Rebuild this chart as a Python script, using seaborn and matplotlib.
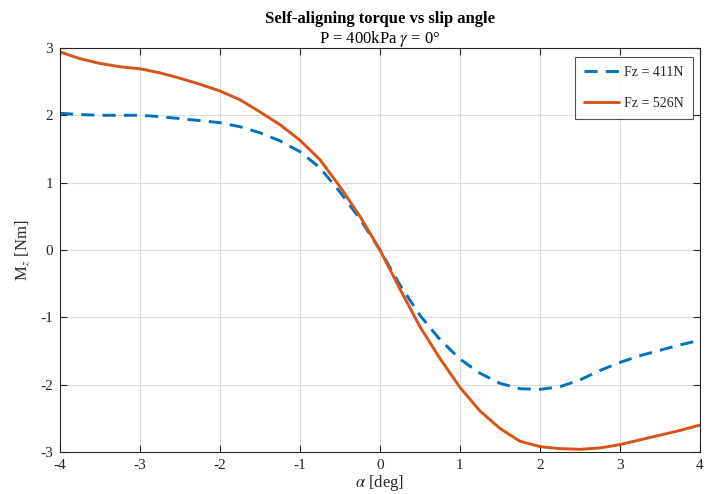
import numpy as np
import pandas as pd
import matplotlib
matplotlib.use('Agg')
import matplotlib.pyplot as plt
import seaborn as sns

# slip angle [deg]
alpha = [-4.0, -3.75, -3.5, -3.25, -3.0, -2.75, -2.5, -2.25, -2.0, -1.75, -1.5,
         -1.25, -1.0, -0.75, -0.5, -0.25, 0.0, 0.25, 0.5, 0.75, 1.0, 1.25, 1.5,
         1.75, 2.0, 2.25, 2.5, 2.75, 3.0, 3.25, 3.5, 3.75, 4.0]

# Mz [Nm]
mz_411 = [2.03, 2.01, 2.00, 2.00, 2.00, 1.98, 1.95, 1.92, 1.89, 1.83, 1.74,
          1.62, 1.46, 1.22, 0.86, 0.46, 0.0, -0.52, -0.97, -1.33, -1.62, -1.83,
          -1.98, -2.06, -2.07, -2.03, -1.93, -1.79, -1.67, -1.57, -1.49, -1.41, -1.34]
mz_526 = [2.94, 2.84, 2.77, 2.72, 2.69, 2.63, 2.55, 2.46, 2.36, 2.23, 2.05,
          1.86, 1.63, 1.34, 0.94, 0.50, 0.0, -0.58, -1.14, -1.61, -2.04, -2.39,
          -2.65, -2.84, -2.92, -2.95, -2.96, -2.94, -2.89, -2.82, -2.75, -2.68, -2.60]

labels = ['Fz = 411N', 'Fz = 526N']
colors = ['#0072BD', '#D95319']

df = pd.concat([
    pd.DataFrame({'alpha': alpha, 'Mz': mz_411, 'load': labels[0]}),
    pd.DataFrame({'alpha': alpha, 'Mz': mz_526, 'load': labels[1]}),
])

sns.set_theme(style='whitegrid')
plt.rcParams['font.family'] = ['Liberation Serif', 'DejaVu Serif']
plt.rcParams['mathtext.fontset'] = 'stix'
plt.rcParams['axes.unicode_minus'] = False

fig = plt.figure(figsize=(7.11, 4.94), dpi=100)
ax = fig.add_axes([0.0844, 0.085, 0.9, 0.818])

sns.lineplot(data=df, x='alpha', y='Mz', hue='load', style='load',
             palette=dict(zip(labels, colors)),
             dashes={labels[0]: (4.5, 2.8), labels[1]: ''},
             linewidth=2.1, ax=ax)

ax.set_xlim(-4, 4)
ax.set_ylim(-3, 3)
ax.set_xticks(np.arange(-4, 5, 1))
ax.set_yticks(np.arange(-3, 4, 1))
ax.grid(True, color='#dcdcdc', linewidth=0.8)
for s in ax.spines.values():
    s.set_color('#262626')
    s.set_linewidth(0.8)
    s.set_visible(True)
ax.tick_params(direction='in', length=5, width=0.8, color='#262626',
               labelsize=11, labelcolor='#262626', top=True, right=True,
               bottom=True, left=True, pad=5)

ax.set_xlabel(r'$\alpha$ [deg]', fontsize=12, color='#262626', labelpad=1)
ax.set_ylabel(r'M$_z$ [Nm]', fontsize=12, color='#262626', labelpad=6)

ax.text(0.5, 1.072, 'Self-aligning torque vs slip angle', transform=ax.transAxes,
        ha='center', va='center', fontsize=12, fontweight='bold', color='black')
ax.text(0.5, 1.022, r'P = 400kPa $\gamma$ = 0°', transform=ax.transAxes,
        ha='center', va='center', fontsize=12, color='black')

leg = ax.legend(loc='upper right', bbox_to_anchor=(0.989, 0.978), fontsize=10,
                frameon=True, fancybox=False, edgecolor='#262626',
                labelspacing=1.3, handlelength=2.5, handletextpad=0.4,
                borderpad=0.65, borderaxespad=0, title=None)
leg.get_frame().set_linewidth(0.8)

fig.savefig('out.png', dpi=100)
